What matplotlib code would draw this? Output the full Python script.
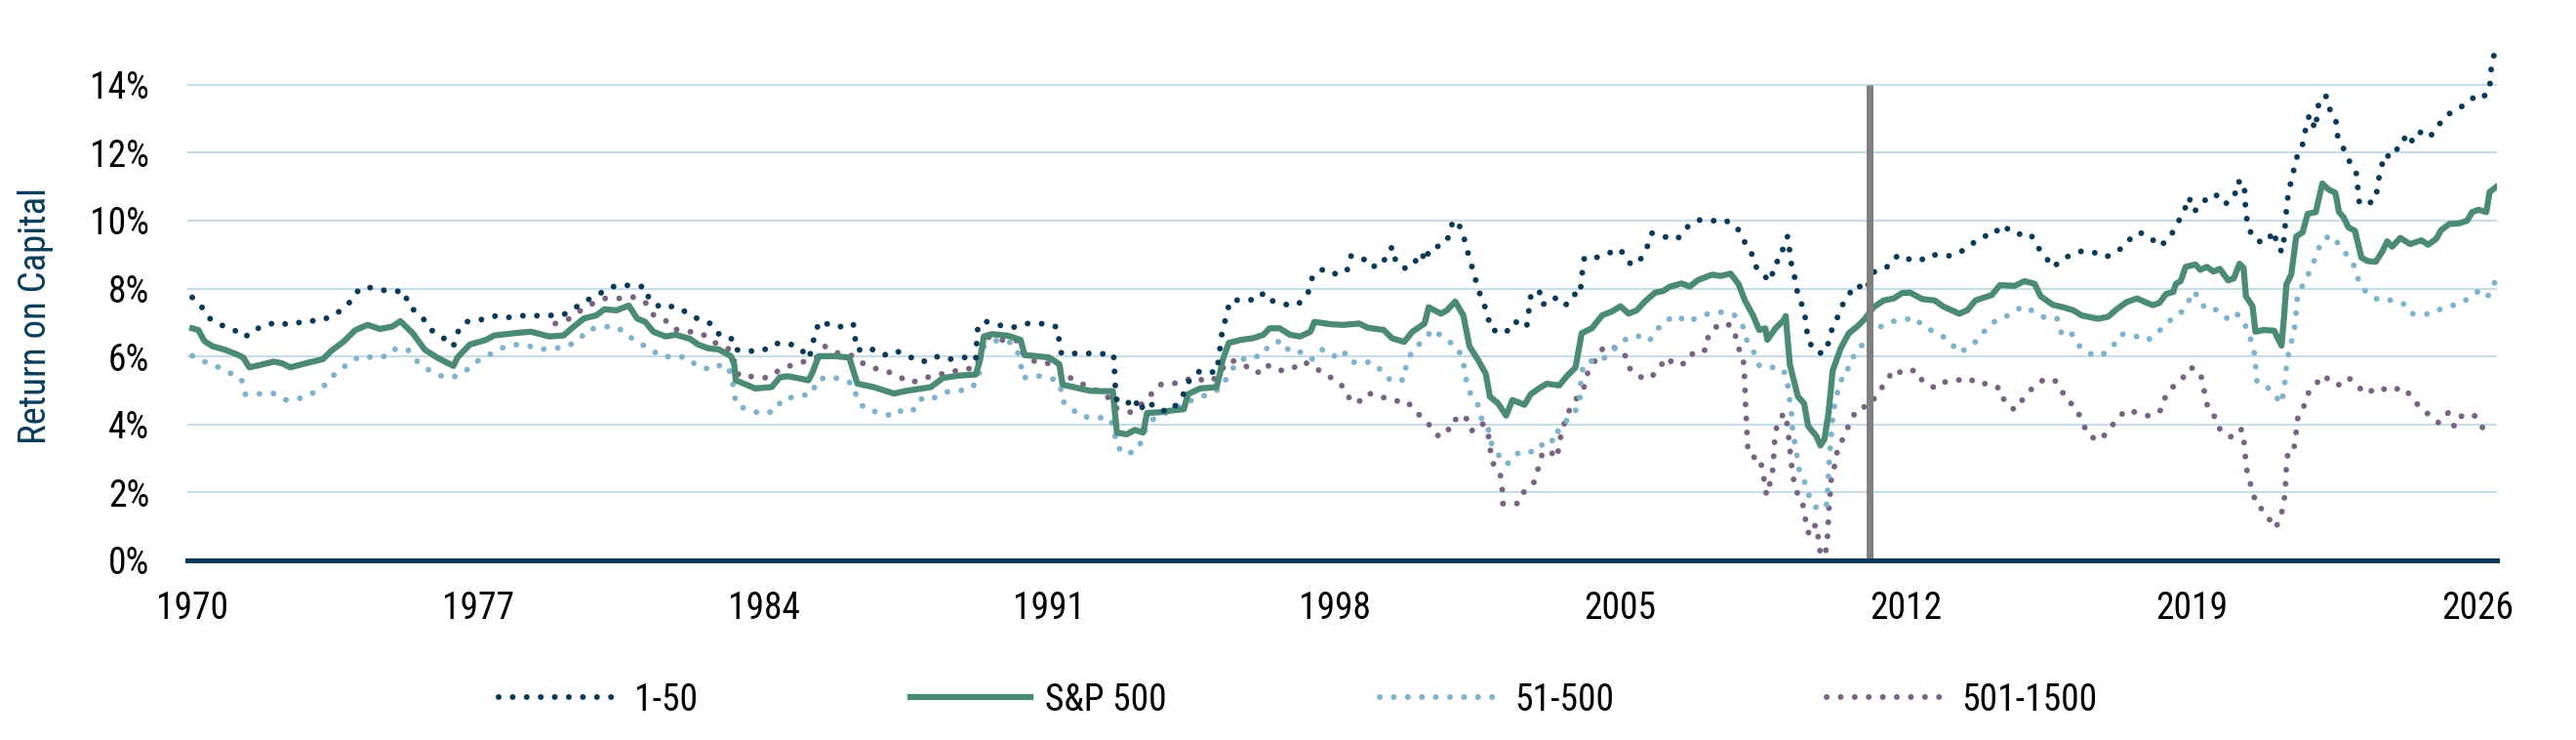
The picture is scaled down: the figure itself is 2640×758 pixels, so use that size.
import matplotlib
matplotlib.use("Agg")
import matplotlib.pyplot as plt

# (year, return on capital in %)
top_1_50 = [
    (1970.0, 7.74), (1970.2, 7.52), (1970.4, 7.14), (1970.7, 6.93), (1971.0, 6.8), (1971.3, 6.57),
    (1971.5, 6.8), (1971.8, 6.88), (1972.0, 7.0), (1972.4, 6.94), (1972.8, 7.05), (1973.1, 7.05),
    (1973.4, 7.17), (1973.7, 7.4), (1973.9, 7.65), (1974.1, 8.0), (1974.4, 8.03), (1974.8, 7.92),
    (1975.2, 7.92), (1975.3, 7.5), (1975.5, 7.3), (1975.7, 7.06), (1975.9, 6.73), (1976.2, 6.51),
    (1976.4, 6.3), (1976.5, 6.71), (1976.7, 7.02), (1977.1, 7.09), (1977.4, 7.19), (1977.8, 7.15),
    (1978.1, 7.2), (1978.4, 7.2), (1978.8, 7.21), (1979.1, 7.23), (1979.4, 7.45), (1979.7, 7.67),
    (1980.0, 7.86), (1980.2, 8.02), (1980.5, 8.11), (1980.8, 8.08), (1981.1, 8.05), (1981.2, 7.67),
    (1981.5, 7.43), (1981.8, 7.48), (1982.1, 7.31), (1982.4, 7.1), (1982.7, 6.97), (1982.9, 6.67),
    (1983.2, 6.56), (1983.3, 6.2), (1983.7, 6.16), (1984.0, 6.18), (1984.25, 6.38), (1984.6, 6.39),
    (1984.9, 6.25), (1985.1, 5.94), (1985.2, 6.25), (1985.25, 6.71), (1985.4, 7.05), (1985.7, 6.88),
    (1986.1, 6.88), (1986.2, 6.95), (1986.25, 6.49), (1986.3, 6.18), (1986.6, 6.27), (1986.8, 6.09),
    (1987.1, 6.03), (1987.3, 6.14), (1987.6, 5.98), (1987.9, 5.84), (1988.2, 6.01), (1988.5, 5.91),
    (1988.9, 5.98), (1989.2, 5.89), (1989.22, 6.35), (1989.25, 6.83), (1989.4, 7.05), (1989.7, 6.94),
    (1990.1, 6.85), (1990.4, 6.97), (1990.8, 6.97), (1991.2, 6.87), (1991.25, 6.41), (1991.3, 6.09),
    (1991.7, 6.09), (1992.0, 6.09), (1992.3, 6.08), (1992.58, 6.07), (1992.6, 5.61), (1992.62, 5.15),
    (1992.66, 4.69), (1992.9, 4.6), (1993.1, 4.79), (1993.2, 4.38), (1993.4, 4.69), (1993.7, 4.41),
    (1994.0, 4.4), (1994.3, 4.91), (1994.45, 5.34), (1994.7, 5.58), (1995.1, 5.53), (1995.15, 5.9),
    (1995.2, 6.36), (1995.25, 6.83), (1995.35, 7.19), (1995.42, 7.63), (1995.8, 7.69), (1996.07, 7.65),
    (1996.26, 7.87), (1996.4, 7.67), (1996.6, 7.58), (1996.8, 7.53), (1997.1, 7.53), (1997.35, 7.9),
    (1997.45, 8.34), (1997.67, 8.56), (1997.98, 8.41), (1998.1, 8.54), (1998.3, 8.54), (1998.4, 8.96),
    (1998.65, 8.83), (1998.8, 8.89), (1999.0, 8.61), (1999.3, 8.94), (1999.4, 9.23), (1999.5, 8.78),
    (1999.7, 8.6), (1999.9, 8.65), (2000.1, 9.06), (2000.25, 8.8), (2000.3, 9.15), (2000.5, 9.23),
    (2000.7, 9.32), (2000.8, 9.56), (2000.9, 10.02), (2001.1, 9.78), (2001.2, 9.34), (2001.3, 8.88),
    (2001.4, 8.49), (2001.5, 8.04), (2001.6, 7.69), (2001.75, 7.26), (2001.8, 6.82), (2002.1, 6.68),
    (2002.2, 6.71), (2002.4, 7.04), (2002.7, 6.86), (2002.75, 7.31), (2002.8, 7.76), (2003.0, 7.97),
    (2003.1, 7.52), (2003.2, 7.65), (2003.35, 7.74), (2003.5, 7.67), (2003.65, 7.5), (2003.85, 7.84),
    (2004.0, 7.79), (2004.05, 8.25), (2004.08, 8.71), (2004.12, 8.92), (2004.45, 8.92), (2004.7, 9.04),
    (2005.0, 9.16), (2005.15, 8.83), (2005.3, 8.68), (2005.5, 8.88), (2005.65, 9.21), (2005.77, 9.63),
    (2006.05, 9.53), (2006.4, 9.46), (2006.6, 9.78), (2006.9, 10.02), (2007.2, 9.99), (2007.55, 10.02),
    (2007.85, 9.82), (2008.0, 9.45), (2008.2, 9.09), (2008.3, 8.67), (2008.55, 8.34), (2008.7, 8.22),
    (2008.75, 8.7), (2008.95, 8.91), (2009.0, 9.37), (2009.1, 9.54), (2009.15, 9.08), (2009.2, 8.62),
    (2009.3, 8.2), (2009.35, 7.76), (2009.5, 7.4), (2009.55, 6.94), (2009.6, 6.47), (2009.8, 6.11),
    (2010.0, 6.1), (2010.1, 6.42), (2010.2, 6.88), (2010.3, 7.09), (2010.4, 7.42), (2010.55, 7.77),
    (2010.8, 8.12), (2011.0, 7.93), (2011.23, 8.51), (2011.6, 8.67), (2011.8, 8.99), (2012.05, 8.87),
    (2012.35, 8.82), (2012.55, 8.99), (2012.75, 8.99), (2013.1, 8.96), (2013.45, 9.15), (2013.75, 9.44),
    (2013.97, 9.56), (2014.1, 9.54), (2014.36, 9.87), (2014.66, 9.6), (2015.05, 9.61), (2015.2, 9.26),
    (2015.4, 8.96), (2015.6, 8.62), (2015.85, 8.89), (2016.1, 9.01), (2016.3, 9.1), (2016.56, 9.08),
    (2016.9, 8.93), (2017.15, 9.08), (2017.34, 9.24), (2017.47, 9.43), (2017.62, 9.63), (2017.79, 9.63),
    (2018.04, 9.44), (2018.21, 9.24), (2018.45, 9.47), (2018.63, 9.88), (2018.81, 10.27), (2018.93, 10.69),
    (2019.07, 10.27), (2019.25, 10.54), (2019.57, 10.79), (2019.81, 10.48), (2020.05, 10.69), (2020.1, 11.14),
    (2020.29, 11.14), (2020.3, 10.69), (2020.33, 10.23), (2020.38, 9.8), (2020.55, 9.43), (2020.79, 9.34),
    (2021.03, 9.69), (2021.08, 9.24), (2021.22, 9.08), (2021.27, 9.55), (2021.3, 10.0), (2021.33, 10.46),
    (2021.38, 10.91), (2021.48, 11.34), (2021.54, 11.8), (2021.68, 12.06), (2021.76, 12.47), (2021.82, 12.94),
    (2021.9, 13.12), (2022.02, 12.69), (2022.08, 13.12), (2022.12, 13.58), (2022.3, 13.66), (2022.4, 13.21),
    (2022.53, 12.97), (2022.57, 12.51), (2022.72, 12.12), (2022.87, 11.73), (2023.03, 11.41), (2023.07, 10.94),
    (2023.11, 10.49), (2023.3, 10.49), (2023.51, 10.61), (2023.56, 11.09), (2023.63, 11.52), (2023.74, 11.96),
    (2023.87, 11.85), (2023.99, 11.98), (2024.12, 12.37), (2024.27, 12.45), (2024.35, 12.25), (2024.51, 12.62),
    (2024.71, 12.57), (2024.83, 12.45), (2025.04, 12.8), (2025.25, 13.1), (2025.53, 13.31), (2025.76, 13.44),
    (2025.95, 13.68), (2026.08, 13.61), (2026.25, 13.73), (2026.31, 14.04), (2026.34, 14.48), (2026.42, 14.95),
]

sp500 = [
    (1970.0, 6.83), (1970.15, 6.78), (1970.3, 6.45), (1970.5, 6.3), (1970.8, 6.2), (1971.1, 6.06),
    (1971.25, 5.97), (1971.4, 5.68), (1971.66, 5.75), (1972.0, 5.85), (1972.2, 5.8), (1972.4, 5.68),
    (1972.85, 5.82), (1973.2, 5.92), (1973.4, 6.16), (1973.7, 6.43), (1974.0, 6.78), (1974.3, 6.93),
    (1974.6, 6.81), (1974.9, 6.88), (1975.1, 7.04), (1975.4, 6.69), (1975.7, 6.2), (1976.0, 5.97),
    (1976.4, 5.72), (1976.5, 5.97), (1976.8, 6.35), (1977.2, 6.49), (1977.4, 6.62), (1978.0, 6.7),
    (1978.3, 6.73), (1978.75, 6.59), (1979.1, 6.62), (1979.3, 6.83), (1979.6, 7.12), (1979.9, 7.21),
    (1980.1, 7.39), (1980.4, 7.36), (1980.7, 7.5), (1980.9, 7.12), (1981.1, 7.02), (1981.3, 6.73),
    (1981.6, 6.59), (1981.85, 6.64), (1982.2, 6.52), (1982.4, 6.35), (1982.65, 6.24), (1982.9, 6.21),
    (1983.2, 6.01), (1983.28, 5.77), (1983.32, 5.3), (1983.56, 5.18), (1983.8, 5.06), (1984.2, 5.1),
    (1984.4, 5.39), (1984.6, 5.42), (1984.9, 5.35), (1985.1, 5.3), (1985.2, 5.53), (1985.35, 6.01),
    (1985.75, 6.01), (1986.1, 5.97), (1986.2, 5.58), (1986.3, 5.2), (1986.7, 5.1), (1987.2, 4.91),
    (1987.5, 4.99), (1988.1, 5.1), (1988.4, 5.37), (1988.8, 5.44), (1989.2, 5.47), (1989.3, 5.87),
    (1989.4, 6.59), (1989.6, 6.66), (1990.0, 6.61), (1990.3, 6.49), (1990.4, 6.04), (1990.7, 6.01),
    (1991.0, 5.97), (1991.25, 5.77), (1991.33, 5.17), (1991.6, 5.1), (1992.0, 4.99), (1992.3, 4.98),
    (1992.56, 4.98), (1992.66, 3.76), (1992.9, 3.71), (1993.1, 3.84), (1993.3, 3.76), (1993.4, 4.34),
    (1993.7, 4.36), (1994.0, 4.41), (1994.3, 4.45), (1994.4, 4.89), (1994.7, 5.06), (1995.1, 5.1),
    (1995.2, 5.58), (1995.25, 5.89), (1995.4, 6.4), (1995.7, 6.49), (1996.0, 6.54), (1996.25, 6.64),
    (1996.4, 6.83), (1996.65, 6.83), (1996.9, 6.64), (1997.15, 6.59), (1997.4, 6.73), (1997.5, 7.02),
    (1997.9, 6.95), (1998.2, 6.93), (1998.6, 6.97), (1998.8, 6.85), (1999.2, 6.78), (1999.4, 6.54),
    (1999.7, 6.43), (1999.9, 6.73), (2000.2, 6.97), (2000.3, 7.45), (2000.6, 7.26), (2000.75, 7.36),
    (2000.95, 7.62), (2001.15, 7.21), (2001.3, 6.3), (2001.5, 5.92), (2001.7, 5.49), (2001.8, 4.82),
    (2002.0, 4.62), (2002.2, 4.26), (2002.35, 4.72), (2002.65, 4.58), (2002.8, 4.89), (2003.05, 5.1),
    (2003.2, 5.2), (2003.5, 5.15), (2003.7, 5.44), (2003.9, 5.68), (2004.05, 6.69), (2004.3, 6.83),
    (2004.55, 7.21), (2004.8, 7.33), (2005.0, 7.48), (2005.2, 7.26), (2005.4, 7.36), (2005.6, 7.62),
    (2005.85, 7.88), (2006.05, 7.93), (2006.2, 8.05), (2006.5, 8.15), (2006.7, 8.06), (2006.9, 8.25),
    (2007.25, 8.41), (2007.45, 8.37), (2007.7, 8.44), (2007.9, 8.12), (2008.05, 7.65), (2008.25, 7.21),
    (2008.4, 6.78), (2008.55, 6.83), (2008.6, 6.49), (2008.8, 6.83), (2009.0, 7.07), (2009.05, 7.19),
    (2009.15, 5.77), (2009.35, 4.82), (2009.5, 4.62), (2009.6, 3.95), (2009.8, 3.66), (2009.9, 3.38),
    (2010.0, 3.57), (2010.1, 4.34), (2010.2, 5.58), (2010.4, 6.25), (2010.6, 6.69), (2010.8, 6.88),
    (2011.0, 7.12), (2011.2, 7.45), (2011.45, 7.65), (2011.7, 7.71), (2011.9, 7.87), (2012.1, 7.88),
    (2012.4, 7.69), (2012.7, 7.65), (2012.9, 7.48), (2013.3, 7.26), (2013.5, 7.36), (2013.7, 7.65),
    (2014.1, 7.81), (2014.3, 8.1), (2014.66, 8.08), (2014.9, 8.22), (2015.15, 8.14), (2015.3, 7.77),
    (2015.6, 7.52), (2015.85, 7.45), (2016.1, 7.36), (2016.3, 7.21), (2016.7, 7.11), (2016.95, 7.17),
    (2017.15, 7.38), (2017.4, 7.6), (2017.66, 7.71), (2017.9, 7.58), (2018.05, 7.51), (2018.21, 7.58),
    (2018.37, 7.84), (2018.55, 7.9), (2018.61, 8.14), (2018.73, 8.22), (2018.85, 8.64), (2019.09, 8.71),
    (2019.21, 8.55), (2019.37, 8.64), (2019.53, 8.5), (2019.69, 8.58), (2019.89, 8.24), (2020.03, 8.3),
    (2020.17, 8.73), (2020.27, 8.61), (2020.33, 7.77), (2020.49, 7.48), (2020.56, 6.73), (2020.76, 6.78),
    (2021.02, 6.76), (2021.2, 6.32), (2021.26, 7.13), (2021.32, 8.12), (2021.44, 8.42), (2021.56, 9.53),
    (2021.72, 9.66), (2021.84, 10.2), (2022.04, 10.25), (2022.2, 11.09), (2022.36, 10.91), (2022.52, 10.82),
    (2022.61, 10.25), (2022.72, 10.1), (2022.84, 9.8), (2023.0, 9.7), (2023.16, 8.91), (2023.31, 8.81),
    (2023.51, 8.79), (2023.67, 9.09), (2023.79, 9.39), (2023.91, 9.23), (2024.11, 9.49), (2024.35, 9.31),
    (2024.63, 9.42), (2024.79, 9.29), (2024.99, 9.46), (2025.11, 9.72), (2025.31, 9.9), (2025.55, 9.92),
    (2025.75, 10.0), (2025.87, 10.25), (2026.03, 10.32), (2026.22, 10.25), (2026.3, 10.84), (2026.46, 10.99),
]

mid_51_500 = [
    (1970.0, 6.02), (1970.3, 5.85), (1970.6, 5.71), (1970.9, 5.53), (1971.2, 5.35), (1971.3, 4.89),
    (1971.66, 4.9), (1972.0, 4.91), (1972.3, 4.72), (1972.7, 4.78), (1973.0, 4.95), (1973.3, 5.2),
    (1973.5, 5.5), (1973.8, 5.77), (1974.1, 6.0), (1974.4, 5.98), (1974.8, 6.01), (1975.0, 6.25),
    (1975.3, 6.18), (1975.5, 5.87), (1975.8, 5.6), (1976.1, 5.43), (1976.4, 5.39), (1976.7, 5.58),
    (1977.0, 5.87), (1977.25, 6.03), (1977.55, 6.24), (1977.9, 6.35), (1978.2, 6.33), (1978.5, 6.21),
    (1978.9, 6.24), (1979.2, 6.3), (1979.5, 6.52), (1979.7, 6.8), (1980.0, 6.85), (1980.3, 6.9),
    (1980.6, 6.73), (1980.85, 6.45), (1981.2, 6.25), (1981.5, 5.99), (1981.8, 6.0), (1982.1, 5.98),
    (1982.4, 5.7), (1982.75, 5.61), (1983.0, 5.79), (1983.2, 5.53), (1983.27, 5.06), (1983.32, 4.6),
    (1983.6, 4.43), (1984.0, 4.31), (1984.3, 4.41), (1984.45, 4.74), (1984.8, 4.82), (1985.2, 4.91),
    (1985.3, 5.3), (1985.6, 5.41), (1986.0, 5.3), (1986.2, 5.18), (1986.3, 4.72), (1986.5, 4.45),
    (1986.8, 4.36), (1987.2, 4.24), (1987.45, 4.48), (1987.7, 4.43), (1987.9, 4.8), (1988.2, 4.79),
    (1988.5, 4.96), (1988.9, 5.01), (1989.1, 5.07), (1989.27, 5.33), (1989.3, 5.77), (1989.33, 6.23),
    (1989.6, 6.47), (1990.0, 6.45), (1990.2, 6.25), (1990.3, 5.81), (1990.35, 5.37), (1990.7, 5.44),
    (1991.1, 5.33), (1991.28, 5.17), (1991.3, 4.72), (1991.55, 4.46), (1991.8, 4.22), (1992.1, 4.22),
    (1992.5, 4.17), (1992.6, 3.83), (1992.65, 3.36), (1992.9, 3.11), (1993.2, 3.3), (1993.3, 3.73),
    (1993.5, 4.12), (1993.8, 4.3), (1994.0, 4.43), (1994.3, 4.62), (1994.6, 4.76), (1994.9, 4.89),
    (1995.2, 5.06), (1995.4, 5.47), (1995.6, 5.82), (1995.9, 6.01), (1996.2, 6.0), (1996.4, 6.35),
    (1996.7, 6.47), (1996.9, 6.13), (1997.2, 6.13), (1997.45, 5.92), (1997.7, 6.21), (1998.0, 6.01),
    (1998.2, 6.18), (1998.4, 5.82), (1998.7, 5.87), (1999.0, 5.77), (1999.2, 5.49), (1999.4, 5.26),
    (1999.7, 5.32), (1999.75, 5.77), (1999.9, 6.18), (2000.2, 6.51), (2000.4, 6.8), (2000.7, 6.52),
    (2001.0, 6.28), (2001.15, 5.86), (2001.2, 5.41), (2001.3, 4.96), (2001.5, 4.59), (2001.6, 4.16),
    (2001.75, 3.97), (2001.8, 3.52), (2002.0, 3.12), (2002.2, 2.82), (2002.4, 2.99), (2002.5, 3.18),
    (2002.8, 3.2), (2002.95, 3.2), (2003.2, 3.59), (2003.4, 3.49), (2003.5, 3.93), (2003.8, 4.24),
    (2004.0, 4.58), (2004.03, 5.37), (2004.1, 5.79), (2004.3, 5.87), (2004.55, 5.9), (2004.8, 6.16),
    (2005.05, 6.47), (2005.4, 6.62), (2005.7, 6.45), (2005.9, 6.8), (2006.1, 7.05), (2006.4, 7.21),
    (2006.6, 7.02), (2006.9, 7.14), (2007.15, 7.26), (2007.5, 7.31), (2007.8, 7.21), (2008.0, 6.88),
    (2008.1, 6.47), (2008.3, 6.06), (2008.4, 5.74), (2008.6, 5.75), (2008.8, 5.64), (2009.0, 5.61),
    (2009.1, 5.15), (2009.15, 4.7), (2009.2, 4.24), (2009.22, 3.76), (2009.3, 3.32), (2009.35, 2.85),
    (2009.4, 2.54), (2009.55, 2.23), (2009.65, 1.77), (2009.85, 1.48), (2010.05, 1.63), (2010.08, 2.11),
    (2010.1, 2.58), (2010.12, 3.02), (2010.15, 3.47), (2010.18, 3.93), (2010.22, 4.41), (2010.3, 4.85),
    (2010.4, 5.31), (2010.55, 5.41), (2010.6, 5.87), (2010.85, 6.16), (2011.0, 6.57), (2011.3, 6.83),
    (2011.6, 7.02), (2012.0, 7.09), (2012.2, 7.15), (2012.45, 6.86), (2012.6, 6.78), (2012.8, 6.67),
    (2013.05, 6.47), (2013.3, 6.11), (2013.55, 6.28), (2013.8, 6.54), (2014.0, 6.88), (2014.25, 7.1),
    (2014.55, 7.23), (2014.85, 7.48), (2015.2, 7.29), (2015.4, 7.14), (2015.7, 7.12), (2015.8, 6.71),
    (2016.0, 6.79), (2016.2, 6.37), (2016.4, 6.13), (2016.7, 6.01), (2016.9, 6.11), (2017.06, 6.29),
    (2017.27, 6.66), (2017.58, 6.62), (2017.9, 6.47), (2018.07, 6.59), (2018.29, 6.86), (2018.53, 7.13),
    (2018.72, 7.26), (2018.92, 7.63), (2019.07, 7.92), (2019.21, 7.58), (2019.41, 7.35), (2019.61, 7.38),
    (2019.89, 7.1), (2020.09, 7.28), (2020.29, 6.98), (2020.43, 6.57), (2020.53, 6.12), (2020.57, 5.67),
    (2020.6, 5.25), (2020.8, 5.15), (2021.0, 4.93), (2021.19, 4.61), (2021.27, 5.05), (2021.3, 5.52),
    (2021.35, 5.98), (2021.44, 6.41), (2021.52, 6.86), (2021.56, 7.33), (2021.59, 7.77), (2021.74, 8.16),
    (2021.92, 8.57), (2022.06, 9.0), (2022.18, 9.41), (2022.41, 9.57), (2022.6, 9.31), (2022.76, 9.06),
    (2022.97, 8.69), (2023.08, 8.27), (2023.24, 7.94), (2023.46, 7.74), (2023.61, 7.65), (2023.9, 7.66),
    (2024.18, 7.56), (2024.38, 7.26), (2024.63, 7.25), (2024.89, 7.25), (2025.07, 7.38), (2025.31, 7.48),
    (2025.63, 7.58), (2025.84, 7.77), (2026.05, 7.94), (2026.25, 7.76), (2026.42, 8.17),
]

small_501_1500 = [
    (1978.9, 6.97), (1979.26, 7.12), (1979.5, 7.34), (1979.8, 7.55), (1980.1, 7.71), (1980.45, 7.71),
    (1980.8, 7.75), (1981.1, 7.6), (1981.3, 7.23), (1981.6, 7.06), (1981.8, 6.81), (1982.2, 6.73),
    (1982.4, 6.7), (1982.6, 6.6), (1982.8, 6.41), (1983.2, 6.19), (1983.3, 5.79), (1983.4, 5.43),
    (1983.7, 5.41), (1984.1, 5.37), (1984.4, 5.61), (1984.7, 5.75), (1985.05, 5.87), (1985.3, 5.97),
    (1985.5, 6.3), (1985.8, 6.11), (1986.2, 6.02), (1986.4, 5.82), (1986.7, 5.66), (1987.0, 5.58),
    (1987.3, 5.42), (1987.6, 5.23), (1987.9, 5.33), (1988.2, 5.47), (1988.5, 5.5), (1988.9, 5.65),
    (1989.2, 5.63), (1989.3, 5.97), (1989.4, 6.43), (1989.5, 6.57), (1989.9, 6.47), (1990.2, 6.47),
    (1990.4, 6.03), (1990.7, 5.82), (1991.1, 5.79), (1991.3, 5.62), (1991.55, 5.34), (1991.85, 5.17),
    (1992.25, 4.95), (1992.45, 4.79), (1992.66, 4.47), (1993.0, 4.36), (1993.25, 4.58), (1993.5, 4.89),
    (1993.7, 5.17), (1994.0, 5.2), (1994.3, 5.25), (1994.5, 5.39), (1994.7, 5.32), (1995.0, 5.28),
    (1995.2, 5.58), (1995.45, 5.9), (1995.8, 5.73), (1996.1, 5.51), (1996.3, 5.77), (1996.6, 5.58),
    (1996.95, 5.63), (1997.2, 5.85), (1997.45, 5.74), (1997.7, 5.51), (1998.0, 5.32), (1998.25, 5.06),
    (1998.4, 4.65), (1998.65, 4.7), (1998.8, 4.91), (1999.0, 4.89), (1999.2, 4.79), (1999.45, 4.69),
    (1999.75, 4.7), (1999.95, 4.43), (2000.15, 4.18), (2000.4, 3.89), (2000.55, 3.64), (2000.75, 3.76),
    (2000.9, 4.16), (2001.1, 4.12), (2001.2, 4.24), (2001.35, 3.81), (2001.6, 4.05), (2001.75, 3.81),
    (2001.8, 3.36), (2001.85, 2.9), (2002.05, 2.58), (2002.1, 2.13), (2002.12, 1.67), (2002.3, 1.65),
    (2002.5, 1.68), (2002.65, 2.05), (2002.9, 2.32), (2003.0, 2.78), (2003.1, 3.21), (2003.3, 3.18),
    (2003.45, 3.01), (2003.5, 3.47), (2003.6, 3.93), (2003.7, 4.32), (2003.9, 4.72), (2004.1, 5.07),
    (2004.2, 5.53), (2004.4, 5.92), (2004.6, 6.3), (2004.9, 6.25), (2005.1, 6.09), (2005.2, 5.68),
    (2005.45, 5.41), (2005.7, 5.34), (2005.95, 5.63), (2006.1, 5.97), (2006.4, 5.73), (2006.65, 5.84),
    (2006.8, 6.16), (2007.1, 6.19), (2007.15, 6.59), (2007.3, 6.85), (2007.6, 6.99), (2007.8, 6.78),
    (2007.85, 6.32), (2008.0, 6.04), (2008.03, 5.63), (2008.05, 5.17), (2008.06, 4.72), (2008.08, 4.24),
    (2008.1, 3.78), (2008.12, 3.33), (2008.25, 3.25), (2008.3, 2.82), (2008.45, 2.82), (2008.52, 2.37),
    (2008.58, 1.92), (2008.72, 2.51), (2008.75, 2.96), (2008.77, 3.41), (2008.82, 3.88), (2008.97, 4.27),
    (2009.05, 4.32), (2009.1, 3.88), (2009.14, 3.41), (2009.18, 2.96), (2009.22, 2.51), (2009.3, 2.05),
    (2009.45, 1.77), (2009.52, 1.31), (2009.58, 0.85), (2009.68, 0.74), (2009.78, 1.06), (2009.86, 0.61),
    (2009.9, 0.16), (2010.02, 0.16), (2010.07, 0.61), (2010.09, 1.07), (2010.11, 1.53), (2010.14, 2.0),
    (2010.17, 2.45), (2010.27, 2.88), (2010.33, 3.35), (2010.5, 3.66), (2010.62, 4.08), (2010.82, 4.48),
    (2011.12, 4.55), (2011.3, 4.94), (2011.52, 5.25), (2011.68, 5.61), (2011.97, 5.49), (2012.22, 5.61),
    (2012.42, 5.25), (2012.72, 5.07), (2012.94, 5.25), (2013.18, 5.27), (2013.44, 5.36), (2013.55, 5.29),
    (2013.79, 5.32), (2014.05, 5.1), (2014.3, 5.08), (2014.42, 4.65), (2014.66, 4.43), (2014.9, 4.8),
    (2015.13, 5.12), (2015.4, 5.34), (2015.65, 5.29), (2015.82, 4.99), (2015.92, 4.72), (2016.15, 4.53),
    (2016.3, 4.12), (2016.46, 3.69), (2016.72, 3.52), (2016.96, 3.8), (2017.14, 4.13), (2017.4, 4.43),
    (2017.68, 4.34), (2017.98, 4.24), (2018.27, 4.44), (2018.37, 4.89), (2018.56, 5.13), (2018.77, 5.35),
    (2018.96, 5.68), (2019.15, 5.6), (2019.23, 5.42), (2019.31, 4.96), (2019.39, 4.51), (2019.53, 4.34),
    (2019.63, 3.93), (2019.91, 3.64), (2020.09, 3.64), (2020.22, 3.86), (2020.29, 3.42), (2020.32, 2.96),
    (2020.37, 2.5), (2020.49, 2.07), (2020.58, 1.62), (2020.75, 1.49), (2020.94, 1.14), (2021.06, 0.95),
    (2021.2, 1.37), (2021.27, 1.84), (2021.3, 2.28), (2021.32, 2.76), (2021.36, 3.21), (2021.5, 3.25),
    (2021.55, 3.69), (2021.59, 4.16), (2021.72, 4.41), (2021.82, 4.87), (2022.0, 5.12), (2022.22, 5.45),
    (2022.4, 5.28), (2022.58, 5.15), (2022.84, 5.38), (2023.05, 5.15), (2023.26, 4.9), (2023.58, 5.1),
    (2023.86, 4.97), (2024.15, 5.1), (2024.39, 4.83), (2024.61, 4.46), (2024.83, 4.28), (2025.05, 4.05),
    (2025.28, 4.34), (2025.44, 3.93), (2025.63, 4.28), (2025.93, 4.26), (2026.12, 3.91), (2026.32, 4.13),
]

x_ticks = [1970, 1977, 1984, 1991, 1998, 2005, 2012, 2019, 2026]
y_ticks = [0, 2, 4, 6, 8, 10, 12, 14]
marker_year = 2011.1   # grey vertical line

navy = '#0a3a58'
green = '#4b8a74'
light_blue = '#7fb3cd'
purple = '#786482'

plt.rcParams['font.family'] = ['Roboto Condensed', 'Liberation Sans Narrow', 'Roboto', 'DejaVu Sans']

fig = plt.figure(figsize=(26.4, 7.58), dpi=100)
ax = fig.add_axes([192 / 2640, 1 - 574 / 758, (2559 - 192) / 2640, (574 - 45) / 758])

dots = (0, (0.01, 2.4))
l4, = ax.plot(*zip(*small_501_1500), color=purple, lw=4.3, ls=dots,
              dash_capstyle='round', label='501-1500', zorder=3, clip_on=False)
l3, = ax.plot(*zip(*mid_51_500), color=light_blue, lw=4.3, ls=dots,
              dash_capstyle='round', label='51-500', zorder=3, clip_on=False)
l2, = ax.plot(*zip(*sp500), color=green, lw=4.5, solid_joinstyle='round',
              label='S&P 500', zorder=4)
l1, = ax.plot(*zip(*top_1_50), color=navy, lw=4.3, ls=dots,
              dash_capstyle='round', label='1-50', zorder=5, clip_on=False)

ax.vlines(marker_year, 0, 14, color='#808080', lw=5, zorder=6)

ax.set_xlim(1969.88, 2026.48)
ax.set_ylim(0, 15.2)
ax.set_xticks(x_ticks)
ax.set_yticks(y_ticks)
ax.set_yticklabels([f"{v}%" for v in y_ticks])
ax.tick_params(axis='both', length=0, labelsize=27, labelcolor='black')
ax.tick_params(axis='x', pad=22)
ax.tick_params(axis='y', pad=28)

ax.grid(axis='y', color='#c7dde8', lw=1.5)
ax.set_axisbelow(True)
for s in ['top', 'right', 'left']:
    ax.spines[s].set_visible(False)
ax.spines['bottom'].set_color(navy)
ax.spines['bottom'].set_linewidth(3.6)
ax.spines['bottom'].set_zorder(7)

ax.set_ylabel('Return on Capital', color='#0b3d5c', fontsize=28)
ax.yaxis.set_label_coords(-0.058, 0.474)

fig.legend([l1, l2, l3, l4], ['1-50', 'S&P 500', '51-500', '501-1500'],
           loc='center', bbox_to_anchor=(0.504, 1 - 717 / 758), ncol=4, frameon=False,
           fontsize=27, handlelength=3.3, handletextpad=0.4, columnspacing=5.8)

fig.savefig('out.png', dpi=100)
